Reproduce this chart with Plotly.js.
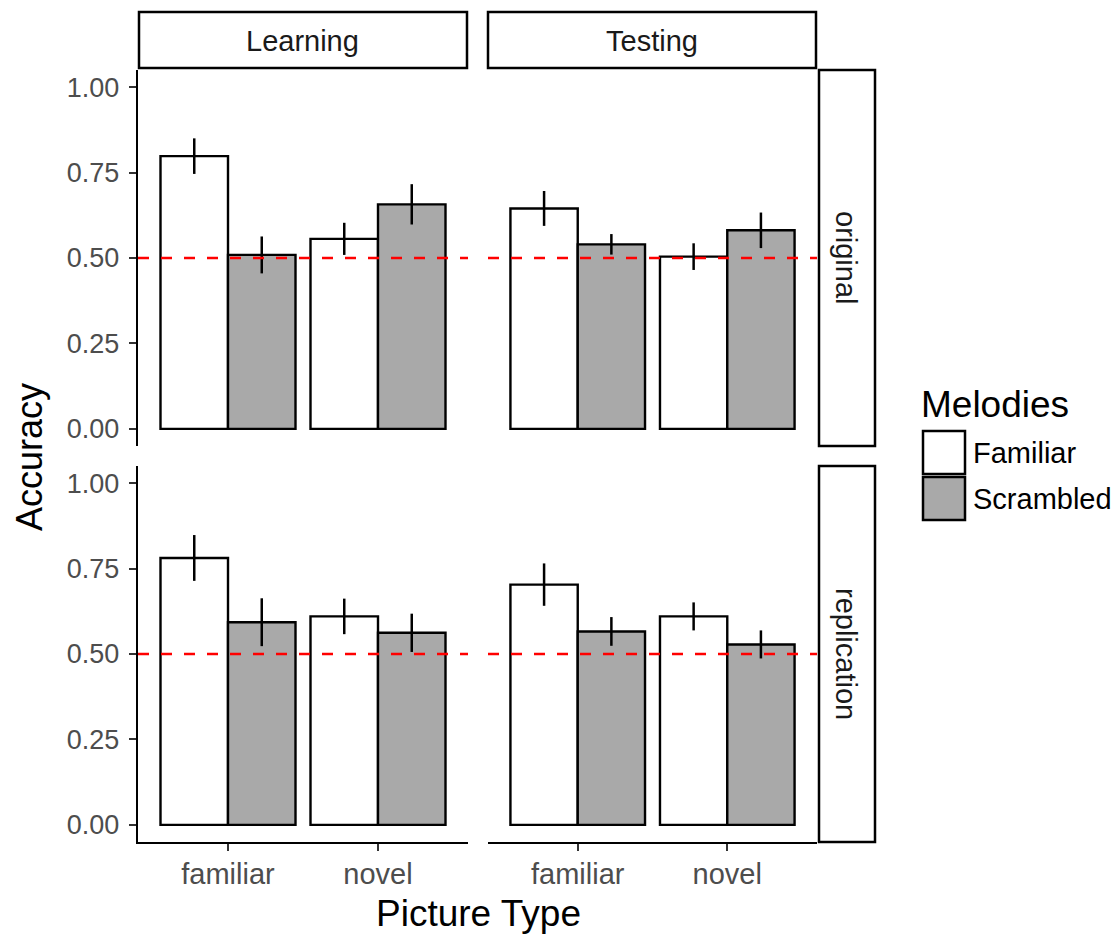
<!DOCTYPE html>
<html>
<head>
<meta charset="utf-8">
<script src="https://cdn.plot.ly/plotly-3.0.1.min.js"></script>
<style>
  html, body { margin: 0; padding: 0; background: #ffffff; }
  #chart { width: 1117px; height: 934px; }
</style>
</head>
<body>
<div id="chart"></div>
<script>
// ---------------- data ----------------
var categories = ["familiar", "novel"];
var phases = ["Learning", "Testing"];
var samples = ["original", "replication"];
var melodies = ["Familiar", "Scrambled"];
var yTickValues = [0, 0.25, 0.5, 0.75, 1.0];
var chanceLevel = 0.5;

// mean accuracy per picture type (familiar, novel)
var familiarOriginalLearning = [0.798, 0.556];
var scrambledOriginalLearning = [0.509, 0.657];
var familiarOriginalTesting = [0.645, 0.504];
var scrambledOriginalTesting = [0.540, 0.581];
var familiarReplicationLearning = [0.781, 0.610];
var scrambledReplicationLearning = [0.593, 0.562];
var familiarReplicationTesting = [0.703, 0.610];
var scrambledReplicationTesting = [0.566, 0.528];

// error bar half-widths
var familiarOriginalLearningErr = [0.052, 0.047];
var scrambledOriginalLearningErr = [0.054, 0.059];
var familiarOriginalTestingErr = [0.051, 0.039];
var scrambledOriginalTestingErr = [0.030, 0.052];
var familiarReplicationLearningErr = [0.067, 0.052];
var scrambledReplicationLearningErr = [0.070, 0.056];
var familiarReplicationTestingErr = [0.062, 0.041];
var scrambledReplicationTestingErr = [0.042, 0.041];

// ---------------- layout helpers ----------------
var W = 1117, H = 934;
function px(x) { return x / W; }
function py(y) { return 1 - y / H; }

var FONT = "Liberation Sans, Arial, Helvetica, sans-serif";
var fillColors = { Familiar: "#FFFFFF", Scrambled: "#A9A9A9" };

// panel pixel boxes
var colX = [[138, 468], [488, 817]];
var rowY = [[70, 446], [466, 842]];

var panels = [
  { ax: "", row: 0, col: 0, fam: familiarOriginalLearning, scr: scrambledOriginalLearning, famE: familiarOriginalLearningErr, scrE: scrambledOriginalLearningErr },
  { ax: "2", row: 0, col: 1, fam: familiarOriginalTesting, scr: scrambledOriginalTesting, famE: familiarOriginalTestingErr, scrE: scrambledOriginalTestingErr },
  { ax: "3", row: 1, col: 0, fam: familiarReplicationLearning, scr: scrambledReplicationLearning, famE: familiarReplicationLearningErr, scrE: scrambledReplicationLearningErr },
  { ax: "4", row: 1, col: 1, fam: familiarReplicationTesting, scr: scrambledReplicationTesting, famE: familiarReplicationTestingErr, scrE: scrambledReplicationTestingErr }
];

var data = [];
var layout = {
  width: W, height: H,
  margin: { l: 0, r: 0, t: 0, b: 0 },
  paper_bgcolor: "#ffffff",
  plot_bgcolor: "rgba(0,0,0,0)",
  barmode: "group",
  bargap: 0.1,
  bargroupgap: 0,
  showlegend: false,
  font: { family: FONT, color: "#000000" },
  shapes: [],
  annotations: []
};

panels.forEach(function (p) {
  var xa = "x" + p.ax, ya = "y" + p.ax;
  var series = [
    { name: melodies[0], y: p.fam, e: p.famE },
    { name: melodies[1], y: p.scr, e: p.scrE }
  ];
  series.forEach(function (s) {
    data.push({
      type: "bar",
      name: s.name,
      x: categories,
      y: s.y,
      xaxis: xa, yaxis: ya,
      marker: { color: fillColors[s.name], line: { color: "#000000", width: 2.4 } },
      error_y: { type: "data", array: s.e, visible: true, width: 0, thickness: 2.5, color: "#000000" },
      hoverinfo: "x+y+name"
    });
  });

  var isBottom = p.row === 1, isLeft = p.col === 0;
  var xKey = "xaxis" + p.ax, yKey = "yaxis" + p.ax;
  layout[xKey] = {
    domain: [px(colX[p.col][0]), px(colX[p.col][1])],
    anchor: ya,
    type: "category",
    categoryorder: "array",
    categoryarray: categories,
    range: [-0.6, 1.6],
    showgrid: false, zeroline: false,
    showline: isBottom, linecolor: "#000000", linewidth: 2.2,
    ticks: isBottom ? "outside" : "", ticklen: 7, tickwidth: 2, tickcolor: "#333333",
    showticklabels: isBottom,
    ticklabelstandoff: -2,
    tickfont: { family: FONT, size: 29, color: "#4D4D4D" },
    fixedrange: true
  };
  layout[yKey] = {
    domain: [py(rowY[p.row][1]), py(rowY[p.row][0])],
    anchor: xa,
    range: [-0.05, 1.05],
    tickvals: yTickValues,
    tickformat: ".2f",
    showgrid: false, zeroline: false,
    showline: isLeft, linecolor: "#000000", linewidth: 2.2,
    ticks: isLeft ? "outside" : "", ticklen: 7, tickwidth: 2, tickcolor: "#333333",
    showticklabels: isLeft,
    ticklabelstandoff: 4,
    tickfont: { family: FONT, size: 27, color: "#4D4D4D" },
    fixedrange: true
  };

  // chance line
  layout.shapes.push({
    type: "line", layer: "above",
    xref: xa + " domain", yref: ya,
    x0: 0, x1: 1, y0: chanceLevel, y1: chanceLevel,
    line: { color: "#FF0000", width: 2.6, dash: "11px,12px" }
  });
});

// column strips
var topStrips = [[139, 467], [488, 816]];
phases.forEach(function (ph, i) {
  layout.shapes.push({
    type: "rect", xref: "paper", yref: "paper", layer: "below",
    x0: px(topStrips[i][0]), x1: px(topStrips[i][1]), y0: py(68), y1: py(12),
    fillcolor: "#FFFFFF", line: { color: "#000000", width: 2.5 }
  });
  layout.annotations.push({
    xref: "paper", yref: "paper",
    x: px((topStrips[i][0] + topStrips[i][1]) / 2), y: py(41),
    xanchor: "center", yanchor: "middle", showarrow: false,
    text: ph, font: { family: FONT, size: 29, color: "#1A1A1A" }
  });
});
// row strips
samples.forEach(function (sm, i) {
  layout.shapes.push({
    type: "rect", xref: "paper", yref: "paper", layer: "below",
    x0: px(819), x1: px(875), y0: py(rowY[i][1]), y1: py(rowY[i][0]),
    fillcolor: "#FFFFFF", line: { color: "#000000", width: 2.5 }
  });
  layout.annotations.push({
    xref: "paper", yref: "paper",
    x: px(846), y: py((rowY[i][0] + rowY[i][1]) / 2),
    xanchor: "center", yanchor: "middle", showarrow: false, textangle: 90,
    text: sm, font: { family: FONT, size: 29, color: "#1A1A1A" }
  });
});

// axis titles
layout.annotations.push({
  xref: "paper", yref: "paper", x: px(478), y: py(913),
  xanchor: "center", yanchor: "middle", showarrow: false,
  text: "Picture Type", font: { family: FONT, size: 37, color: "#000000" }
});
layout.annotations.push({
  xref: "paper", yref: "paper", x: px(30), y: py(457),
  xanchor: "center", yanchor: "middle", showarrow: false, textangle: -90,
  text: "Accuracy", font: { family: FONT, size: 36, color: "#000000" }
});

// legend (drawn manually to match key sizes)
layout.annotations.push({
  xref: "paper", yref: "paper", x: px(919), y: py(405),
  xanchor: "left", yanchor: "middle", showarrow: false,
  text: "Melodies", font: { family: FONT, size: 37, color: "#000000" }
});
var keyY = [[431, 474], [477, 520]];
melodies.forEach(function (m, i) {
  layout.shapes.push({
    type: "rect", xref: "paper", yref: "paper",
    x0: px(923), x1: px(965), y0: py(keyY[i][1]), y1: py(keyY[i][0]),
    fillcolor: fillColors[m], line: { color: "#000000", width: 2.5 }
  });
  layout.annotations.push({
    xref: "paper", yref: "paper", x: px(971), y: py((keyY[i][0] + keyY[i][1]) / 2),
    xanchor: "left", yanchor: "middle", showarrow: false,
    text: m, font: { family: FONT, size: 29, color: "#000000" }
  });
});

Plotly.newPlot("chart", data, layout, { displayModeBar: false, staticPlot: true });
</script>
</body>
</html>
